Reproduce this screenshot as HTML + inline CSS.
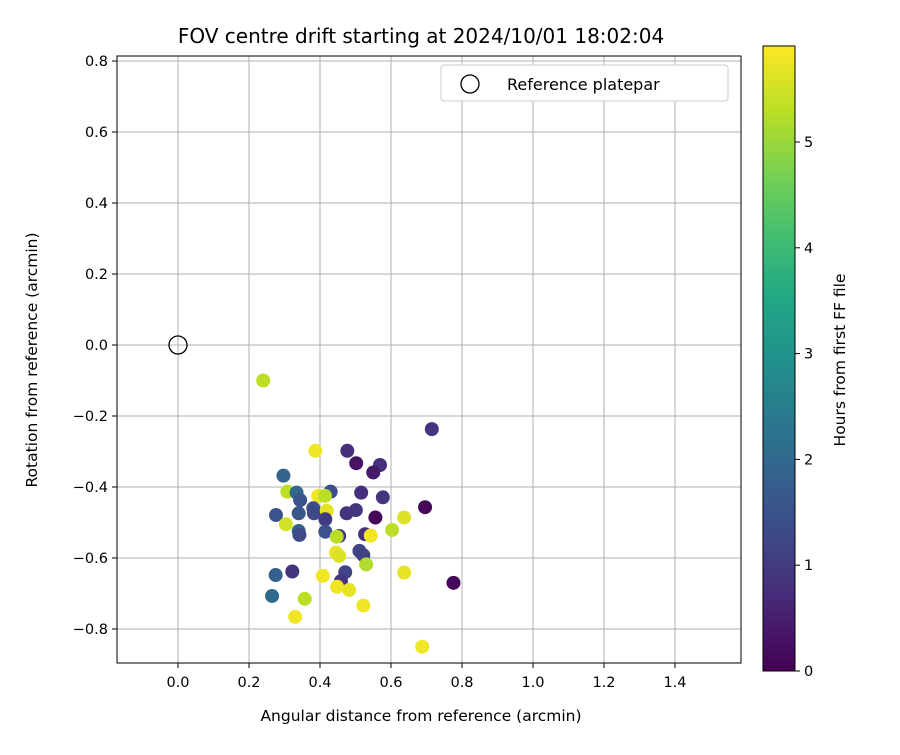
<!DOCTYPE html>
<html><head><meta charset="utf-8"><style>body{margin:0;background:#fff;font-family:"Liberation Sans","DejaVu Sans",sans-serif}</style></head>
<body>
<svg id="chart" width="900" height="750" xmlns="http://www.w3.org/2000/svg" font-family="DejaVu Sans, Liberation Sans, sans-serif">
<defs>
<linearGradient id="vir" x1="0" y1="1" x2="0" y2="0">
<stop offset="0" stop-color="#440154"/><stop offset="0.1" stop-color="#482475"/><stop offset="0.2" stop-color="#414487"/><stop offset="0.3" stop-color="#355f8d"/><stop offset="0.4" stop-color="#2a788e"/><stop offset="0.5" stop-color="#21918c"/><stop offset="0.6" stop-color="#22a884"/><stop offset="0.7" stop-color="#44bf70"/><stop offset="0.8" stop-color="#7ad151"/><stop offset="0.9" stop-color="#bddf26"/><stop offset="1" stop-color="#fde725"/>
</linearGradient>
</defs>
<g id="grid"></g>
<g id="pts"></g>
<rect x="117" y="56" width="624" height="607" fill="none" stroke="#000" stroke-width="1"/>
<g id="axes"></g>
<text x="421" y="43" text-anchor="middle" font-size="20">FOV centre drift starting at 2024/10/01 18:02:04</text>
<text x="421" y="721" text-anchor="middle" font-size="15.5">Angular distance from reference (arcmin)</text>
<text transform="translate(37,360) rotate(-90)" text-anchor="middle" font-size="15.5">Rotation from reference (arcmin)</text>
<g>
<rect x="441" y="65" width="287" height="36" rx="3" fill="#fff" stroke="#ccc"/>
<circle cx="470" cy="84" r="9" fill="none" stroke="#000" stroke-width="1.3"/>
<text x="507" y="90" font-size="16">Reference platepar</text>
</g>
<rect x="763" y="46" width="32" height="625" fill="url(#vir)" stroke="#000" stroke-width="1"/>
<g id="cbar"></g>
<text transform="translate(845,360) rotate(-90)" text-anchor="middle" font-size="15.5">Hours from first FF file</text>
</svg>
<script>
const xs=[0.24,0.715,0.387,0.477,0.502,0.569,0.550,0.297,0.308,0.334,0.344,0.430,0.395,0.414,0.516,0.577,0.696,0.276,0.340,0.381,0.383,0.419,0.415,0.475,0.501,0.556,0.637,0.603,0.304,0.340,0.342,0.415,0.454,0.447,0.527,0.543,0.445,0.454,0.511,0.522,0.530,0.637,0.275,0.322,0.408,0.471,0.459,0.448,0.482,0.776,0.265,0.357,0.522,0.330,0.688];
const ys=[-0.10,-0.237,-0.298,-0.298,-0.333,-0.338,-0.359,-0.368,-0.413,-0.416,-0.437,-0.413,-0.425,-0.425,-0.416,-0.429,-0.457,-0.479,-0.474,-0.460,-0.474,-0.467,-0.491,-0.474,-0.465,-0.486,-0.486,-0.521,-0.505,-0.524,-0.535,-0.526,-0.538,-0.540,-0.533,-0.537,-0.585,-0.594,-0.580,-0.592,-0.618,-0.641,-0.648,-0.638,-0.650,-0.640,-0.665,-0.681,-0.690,-0.670,-0.707,-0.715,-0.734,-0.766,-0.850];
const hours=[5.3,0.9,5.8,0.8,0.3,0.8,0.4,1.9,5.3,2.0,1.5,1.4,5.8,5.3,0.8,0.9,0.1,1.5,1.6,1.4,1.3,5.7,1.0,0.9,0.9,0.1,5.6,5.3,5.5,1.9,1.3,1.5,0.9,5.3,0.8,5.8,5.7,5.6,1.2,1.1,5.2,5.7,1.8,0.9,5.8,1.2,0.9,5.8,5.7,0.1,2.0,5.3,5.8,5.8,5.8];
const xTicks=[0.0,0.2,0.4,0.6,0.8,1.0,1.2,1.4];
const yTicks=[0.8,0.6,0.4,0.2,0.0,-0.2,-0.4,-0.6,-0.8];
const cTicks=[0,1,2,3,4,5];
const NS='http://www.w3.org/2000/svg';
const X=v=>178+v*355, Y=v=>345-v*355, C=v=>671-v*105.8;
const stops=[[68,1,84],[72,36,117],[65,68,135],[53,95,141],[42,120,142],[33,145,140],[34,168,132],[68,191,112],[122,209,81],[189,223,38],[253,231,37]];
function vir(h){let t=Math.max(0,Math.min(1,h/5.907))*10,i=Math.min(9,Math.floor(t)),f=t-i;const a=stops[i],b=stops[i+1];return 'rgb('+a.map((c,k)=>Math.round(c+(b[k]-c)*f)).join(',')+')';}
function mk(t,a,p){const e=document.createElementNS(NS,t);for(const k in a)e.setAttribute(k,a[k]);p.appendChild(e);return e;}
const fmt=v=>(v<0?'\u2212':'')+Math.abs(v).toFixed(1);
const g=document.getElementById('grid'),ax=document.getElementById('axes'),pg=document.getElementById('pts'),cb=document.getElementById('cbar');
xTicks.forEach(v=>{const l=mk('line',{x1:X(v),x2:X(v),y1:56,y2:663,stroke:'#b0b0b0','stroke-width':1},g);

mk('line',{x1:X(v),x2:X(v),y1:663,y2:668,stroke:'#000'},ax);
const t=mk('text',{x:X(v),y:687,'text-anchor':'middle','font-size':14.5},ax);t.textContent=fmt(v);
});
yTicks.forEach(v=>{const l=mk('line',{x1:117,x2:741,y1:Y(v),y2:Y(v),stroke:'#b0b0b0','stroke-width':1},g);

mk('line',{x1:112,x2:117,y1:Y(v),y2:Y(v),stroke:'#000'},ax);
const t=mk('text',{x:108,y:Y(v)+5,'text-anchor':'end','font-size':14.5},ax);t.textContent=fmt(v);
});
cTicks.forEach(v=>{mk('line',{x1:795,x2:800,y1:C(v),y2:C(v),stroke:'#000'},cb);
const t=mk('text',{x:804,y:C(v)+5,'font-size':14.5},cb);t.textContent=v;
});
xs.forEach((x,i)=>{const c=mk('circle',{cx:X(x),cy:Y(ys[i]),r:7,fill:vir(hours[i])},pg);

});
const ref=mk('circle',{cx:X(0),cy:Y(0),r:9,fill:'none',stroke:'#000','stroke-width':1.3},pg);


</script>
</body></html>
